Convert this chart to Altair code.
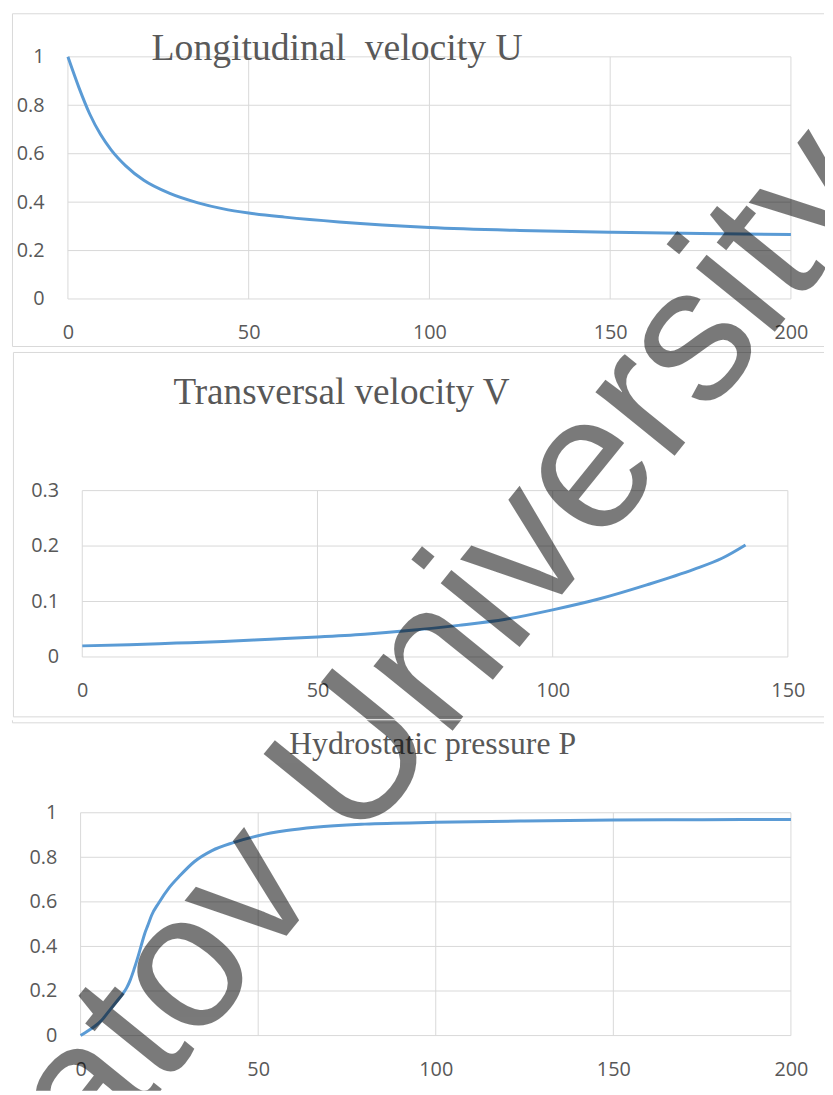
import altair as alt
import pandas as pd

# ---- data ----
u_x = [0, 3, 6, 9, 12, 16, 21, 28, 36, 43, 50, 60, 75, 100, 125, 150, 175, 200]
u_y = [1.0, 0.875, 0.765, 0.68, 0.615, 0.55, 0.49, 0.437, 0.397, 0.372, 0.355,
       0.338, 0.318, 0.295, 0.283, 0.276, 0.27, 0.266]

v_x = [0, 10, 20, 30, 40, 50, 60, 70, 80, 90, 100, 110, 120, 130, 136, 141]
v_y = [0.020, 0.022, 0.025, 0.028, 0.032, 0.036, 0.041, 0.048, 0.057, 0.068,
       0.085, 0.105, 0.130, 0.158, 0.178, 0.202]

p_x = [0, 2, 4, 6, 8, 10, 12, 13, 14, 15, 16, 17, 18, 19, 20, 22, 25, 28, 32,
       37, 43, 50, 58, 66, 80, 100, 125, 150, 175, 200]
p_y = [0, 0.02, 0.042, 0.07, 0.11, 0.15, 0.19, 0.215, 0.25, 0.295, 0.345, 0.40,
       0.455, 0.497, 0.54, 0.595, 0.665, 0.718, 0.78, 0.83, 0.866, 0.897, 0.92,
       0.935, 0.949, 0.957, 0.963, 0.967, 0.969, 0.97]

titles = ["Longitudinal\u00a0 velocity U", "Transversal velocity V", "Hydrostatic pressure P"]
u_xticks = [0, 50, 100, 150, 200]
u_yticks = [0, 0.2, 0.4, 0.6, 0.8, 1]
v_xticks = [0, 50, 100, 150]
v_yticks = [0, 0.1, 0.2, 0.3]
p_xticks = [0, 50, 100, 150, 200]
p_yticks = [0, 0.2, 0.4, 0.6, 0.8, 1]
watermark = "Saratov University"

W = 825
GRID = "#d9d9d9"
LABEL = "#595959"
BLUE = "#5B9BD5"
one = pd.DataFrame({"k": [0]})


def panel(xs, ys, xmax, ymax, xticks, yticks, H, plot, frame, title, tpos, tsize, wm, bottom=True):
    x0, x1, y0, y1 = plot
    fl, ft, fb = frame
    df = pd.DataFrame({"x": xs, "y": ys})
    xscale = alt.Scale(domain=[0, xmax], range=[x0, x1], nice=False, zero=True)
    yscale = alt.Scale(domain=[0, ymax], range=[y1, y0], nice=False, zero=True)
    axis_common = dict(ticks=False, domain=False, grid=False,
                       labelColor=LABEL, labelFont="Open Sans", labelFontSize=20,
                       labelPadding=24, labelFlush=False, labelOverlap=False, zindex=0)
    xaxis = alt.Axis(values=xticks, offset=-(H - y1), **axis_common)
    yaxis = alt.Axis(values=yticks, offset=-x0, format=".1~f", **axis_common)
    vgrid = alt.Chart(pd.DataFrame({"t": xticks})).mark_rule(color=GRID, strokeWidth=1).encode(
        x=alt.X("t:Q", title=None, scale=xscale, axis=xaxis), y=alt.value(y0), y2=alt.value(y1))
    hgrid = alt.Chart(pd.DataFrame({"t": yticks})).mark_rule(color=GRID, strokeWidth=1).encode(
        y=alt.Y("t:Q", title=None, scale=yscale, axis=yaxis), x=alt.value(x0), x2=alt.value(x1))
    line = alt.Chart(df).mark_line(color=BLUE, strokeWidth=3, interpolate="monotone").encode(
        x=alt.X("x:Q", title=None, scale=xscale, axis=xaxis),
        y=alt.Y("y:Q", title=None, scale=yscale, axis=yaxis),
    )
    frames = [
        alt.Chart(one).mark_rule(color=GRID, strokeWidth=1).encode(
            x=alt.value(fl), x2=alt.value(W - 1), y=alt.value(ft)),
        alt.Chart(one).mark_rule(color=GRID, strokeWidth=1).encode(
            x=alt.value(fl), y=alt.value(ft), y2=alt.value(fb)),
    ]
    if bottom:
        frames.append(alt.Chart(one).mark_rule(color=GRID, strokeWidth=1).encode(
            x=alt.value(fl), x2=alt.value(W - 1), y=alt.value(fb)))
    ttl = alt.Chart(one).mark_text(text=title, font="Liberation Serif", fontSize=tsize,
                                   color=LABEL, align="left", baseline="alphabetic").encode(
        x=alt.value(tpos[0]), y=alt.value(tpos[1]))
    wmk = alt.Chart(one).mark_text(text=watermark, font="Liberation Sans", fontSize=194,
                                   angle=309, align="center", baseline="middle",
                                   color="black", opacity=0.52, clip=True).encode(
        x=alt.value(wm[0]), y=alt.value(wm[1]))
    return alt.layer(*frames, vgrid, hgrid, line, ttl, wmk).properties(width=W, height=H)


WMX, WMY = 356, 764   # watermark anchor in page pixels
p1 = panel(u_x, u_y, 200, 1, u_xticks, u_yticks, 340, (60.5, 790.6, 44, 288.5),
           (4.5, 0.5, 336.5), titles[0], (145, 47), 38, (WMX - 8, WMY - 8))
p2 = panel(v_x, v_y, 150, 0.3, v_xticks, v_yticks, 373, (75, 787.5, 142, 310),
           (5.5, 2.5, 370.5), titles[1], (167, 55), 37.5, (WMX - 8, WMY - 348))
p3 = panel(p_x, p_y, 200, 1, p_xticks, p_yticks, 374, (73.3, 790.6, 93.3, 318.3),
           (4.5, 2.5, 0), titles[2], (284, 34), 32, (WMX - 8, WMY - 721), bottom=False)

chart = alt.vconcat(p1, p2, p3, spacing=0).properties(padding=0).configure_view(strokeWidth=0)

chart.save("out.html", embed_options={"renderer": "svg", "actions": False})
